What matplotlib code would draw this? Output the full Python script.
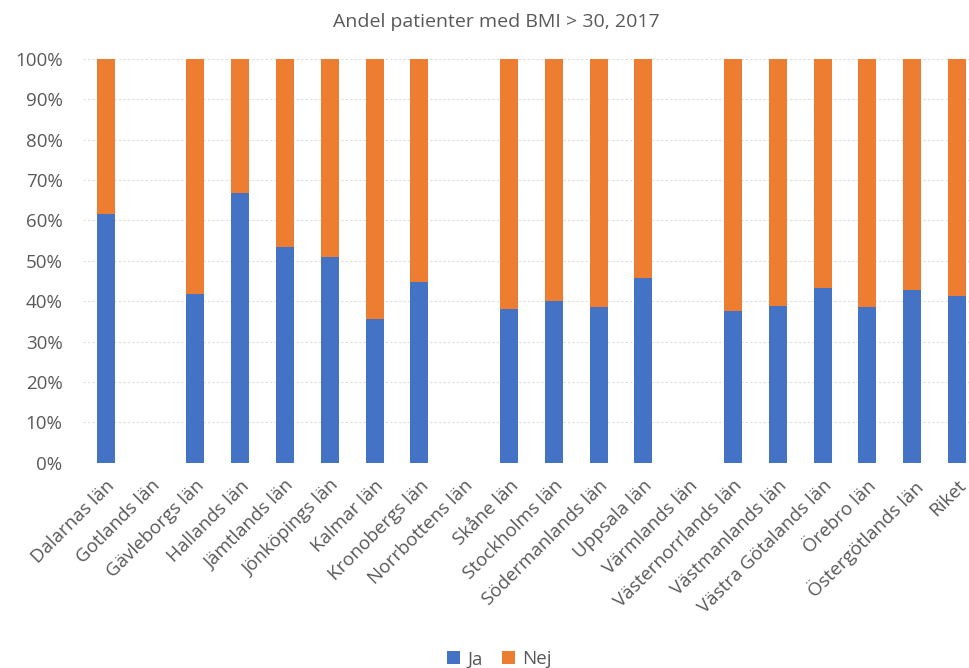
import matplotlib.pyplot as plt
import numpy as np
from matplotlib.ticker import PercentFormatter

regions = ['Dalarnas län', 'Gotlands län', 'Gävleborgs län', 'Hallands län',
           'Jämtlands län', 'Jönköpings län', 'Kalmar län', 'Kronobergs län',
           'Norrbottens län', 'Skåne län', 'Stockholms län', 'Södermanlands län',
           'Uppsala län', 'Värmlands län', 'Västernorrlands län', 'Västmanlands län',
           'Västra Götalands län', 'Örebro län', 'Östergötlands län', 'Riket']

# share of patients with BMI > 30 (percent), None = no reported data
ja = [61.5, None, 41.9, 66.7, 53.5, 50.9, 35.5, 44.7, None, 38.1,
      40.0, 38.6, 45.8, None, 37.5, 38.8, 43.4, 38.6, 42.7, 41.3]
nej = [None if v is None else 100 - v for v in ja]

title = 'Andel patienter med BMI > 30, 2017'

BLUE = '#4472C4'
ORANGE = '#ED7D31'
TEXT = '#595959'

plt.rcParams['font.family'] = ['Open Sans', 'DejaVu Sans']

ja_vals = np.array([np.nan if v is None else v for v in ja]) / 100
nej_vals = np.array([np.nan if v is None else v for v in nej]) / 100
x = np.arange(len(regions))

fig = plt.figure(figsize=(9.7, 6.68), dpi=100)
ax = fig.add_axes([0.086, 0.3073, 0.914, 0.6044])

ax.bar(x, ja_vals, width=0.4, color=BLUE, label='Ja', zorder=3)
ax.bar(x, nej_vals, width=0.4, bottom=ja_vals, color=ORANGE, label='Nej', zorder=3)

ax.set_ylim(0, 1)
ax.set_xlim(-0.5, 19.29)
ax.set_yticks(np.arange(0, 1.01, 0.1))
ax.yaxis.set_major_formatter(PercentFormatter(1.0, decimals=0))
ax.grid(axis='y', color='#dcdcdc', linestyle=(0, (2, 2)), linewidth=0.8, zorder=0)
ax.set_axisbelow(True)

for side in ['top', 'right', 'left', 'bottom']:
    ax.spines[side].set_visible(False)
ax.tick_params(axis='both', length=0, colors=TEXT, labelsize=13.5)
ax.tick_params(axis='y', pad=15)

ax.set_xticks(x)
ax.set_xticklabels(regions, rotation=45, ha='right', rotation_mode='anchor')
ax.tick_params(axis='x', pad=10)

fig.text(0.512, 0.967, title, ha='center', va='center', fontsize=14, color=TEXT)

fig.legend(loc='center', bbox_to_anchor=(0.515, 0.013), ncol=2, frameon=False,
           fontsize=13.5, labelcolor=TEXT, handlelength=0.7, handleheight=0.7,
           handletextpad=0.4, columnspacing=1.0)

fig.savefig('out.png', dpi=100)
